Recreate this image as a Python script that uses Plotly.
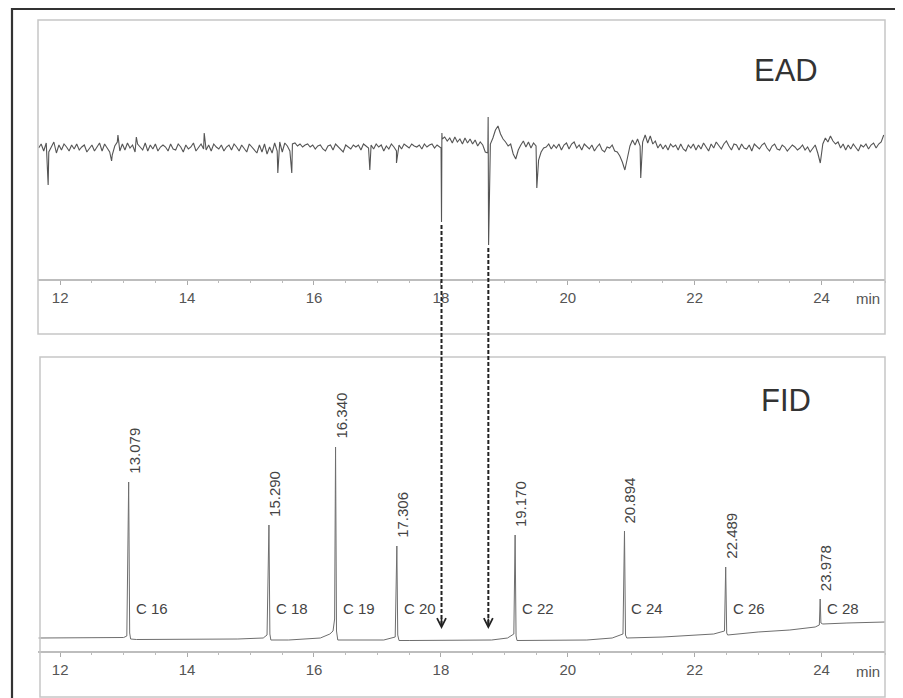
import numpy as np
import plotly.graph_objects as go

# page body has an 8 px margin, so the figure is sized to fit the 903x698 window
OFF = 8
W, H = 903 - OFF, 698 - OFF

# ---------------- EAD (antenna response, microvolts) ----------------
ead_t0 = 11.66          # first sample time (min)
ead_step = 0.04         # sampling step (min)
ead_noise = [
    0, 40, -30, 50, -40, 10, 60, -50, 30, -20, 40, 10, -30, 30, -10, 40, -20, 10, 30, -40, 0, 30, -30, 10, 50,
    -30, 40, 0, -40, -70, 20, 60, -30, 40, -20, 50, 0, 30, -40, 40, 10, -20, 50, -30, 30, -10, 40, -30, 10, 30,
    10, -30, 40, -10, -20, 40, 10, -40, 30, -10, 10, 50, -30, 10, 40, -10, -20, 30, -30, 40, 10, -10, 30, -30, 10,
    30, -20, 40, 10, -30, 30, -10, -40, 40, 10, -30, -50, 30, -40, 40, -60, 10, -50, 50, -30, 60, -40, 50, 20, -30,
    40, 50, 20, 40, 10, 30, 40, 10, 30, -10, 20, 30, -10, -30, 20, 30, -20, 40, 10, -10, -40, 30, 10, -10, 30,
    10, 30, -20, 40, 20, 0, 30, -10, 40, 10, 30, -30, 20, -10, 40, 10, -30, 30, -10, 40, 20, 0, 40, 20, 10,
    30, -10, 40, 10, 30, 40, 0, 30, 10, 90, 110, 70, 100, 50, 110, 60, 90, 40, 100, 50, 90, 40, 80, 20, 60,
    30, -40, -50, 40, 100, 180, 220, 140, 90, 60, 20, 40, -60, -110, -20, 30, 70, 10, 60, 0, 50, 20, -120, -40, 0,
    10, 40, -10, 30, 0, 40, -20, 30, 50, -10, 40, 60, 0, 30, -20, 40, 10, -10, 30, -30, 10, 40, -20, -40, 10,
    0, 30, -30, -40, -80, -140, -220, -100, 20, 80, 30, 90, 20, 60, 130, 50, 120, 40, 70, 0, 40, -10, 30, -20, 40,
    10, 30, -20, 40, -10, -30, 30, 0, 40, -20, 30, -10, 50, 10, -30, 40, 0, 60, 20, -10, 40, 70, 20, -20, 40,
    30, -20, 40, 0, -10, 30, -30, 40, 10, -10, 30, 50, 0, -30, 20, 40, -10, -20, 30, 10, -30, 0, 30, 10, -20,
    0, 30, -20, 10, -40, 0, 30, -50, -150, 40, 100, 60, 120, 70, 40, 60, 0, 40, -20, 30, -10, 40, 10, -30, 30,
    10, 40, -10, 30, 50, 0, 40, 60, 130,
]
# sharp spikes / responses
ead_event_t = [11.81, 12.81, 12.91, 13.20, 14.27, 15.43, 15.65, 16.88, 17.30,
               18.003, 18.010, 18.016, 18.745, 18.752, 19.512, 21.15]
ead_event_v = [-370, -130, 130, 110, 150, -250, -250, -220, -150,
               0, -740, 150, 310, -970, -400, -300]

# ---------------- FID (detector signal) ----------------
fid_base_t = [11.66, 12.5, 13.0, 13.05, 13.095, 13.11, 13.2, 14.0, 14.8, 15.2, 15.26, 15.305, 15.32, 15.6,
              16.1, 16.25, 16.30, 16.325, 16.355, 16.375, 16.6, 17.1, 17.28, 17.32, 17.34, 17.5, 18.0,
              18.8, 19.05, 19.15, 19.185, 19.20, 19.5, 20.3, 20.7, 20.87, 20.91, 20.93, 21.5, 22.3,
              22.47, 22.505, 22.52, 23.0, 23.5, 23.9, 23.965, 23.99, 24.02, 24.4, 25.0]
fid_base_v = [1, 1, 1.5, 3, 6, 0, -0.5, -0.5, 0, 1, 4, 5, -1, -1,
              1, 5, 8, 20, 8, -1, -1, -1, 2, 4, -1.5, -1.5, -1.5,
              -1, 1, 5, 3, -1.5, -1.5, -1, 1, 5, 4, 1, 2, 5,
              8, 6, 4, 7, 9, 12, 14, 16, 15, 16, 17]
peak_rt = [13.079, 15.290, 16.340, 17.306, 19.170, 20.894, 22.489, 23.978]
peak_height = [157, 114, 192, 93, 104, 108, 72, 40]
peak_names = ["C 16", "C 18", "C 19", "C 20", "C 22", "C 24", "C 26", "C 28"]

# antennal responses marked by arrows
response_t = [18.01, 18.748]

x_ticks = [12, 14, 16, 18, 20, 22, 24]

# ---------------- build series ----------------
ead_t_grid = ead_t0 + ead_step * np.arange(len(ead_noise))
ead_t = np.concatenate([ead_t_grid, ead_event_t])
ead_v = np.concatenate([np.array(ead_noise, float), ead_event_v])
order = np.argsort(ead_t, kind="stable")
ead_t, ead_v = ead_t[order], ead_v[order]

fid_t = np.concatenate([fid_base_t, peak_rt])
fid_v = np.concatenate([fid_base_v, peak_height])
order = np.argsort(fid_t, kind="stable")
fid_t, fid_v = fid_t[order], fid_v[order]

# ---------------- layout geometry (window pixel -> paper) ----------------
def px(p):
    return (p - OFF) / W

def py(p):
    return 1 - (p - OFF) / H

x_dom = [px(38), px(885)]
x_rng = [11.65, 25.0]
y_dom_top = [py(279), py(20)]
y_dom_bot = [py(651), py(357)]
ead_rng = [-1310, 1280]
fid_rng = [-12, 282]

def to_paper(v, rng, dom):
    return dom[0] + (v - rng[0]) / (rng[1] - rng[0]) * (dom[1] - dom[0])

FONT = "Liberation Sans, Arial, sans-serif"
TXT = "#444444"

fig = go.Figure()
fig.add_trace(go.Scatter(x=ead_t, y=ead_v, mode="lines", xaxis="x", yaxis="y",
                         line=dict(color="#555555", width=1.1), hoverinfo="skip", showlegend=False))
fig.add_trace(go.Scatter(x=fid_t, y=fid_v, mode="lines", xaxis="x2", yaxis="y2",
                         line=dict(color="#6e6e6e", width=1), hoverinfo="skip", showlegend=False))

axis_common = dict(
    domain=x_dom, range=x_rng, showgrid=False, zeroline=False,
    showline=True, linecolor="#bdbdbd", linewidth=1.5,
    tickmode="array", tickvals=x_ticks, ticktext=[str(v) for v in x_ticks],
    ticks="outside", ticklen=4, tickwidth=1, tickcolor="#aaaaaa",
    minor=dict(dtick=0.5, tick0=12, ticks="outside", ticklen=2, tickcolor="#bbbbbb", showgrid=False),
    tickfont=dict(family=FONT, size=15, color="#555555"),
    fixedrange=True,
)

annotations = []
shapes = []

# outer frame
shapes.append(dict(type="rect", xref="paper", yref="paper", x0=px(12), x1=1.05, y0=-0.05, y1=py(9),
                   line=dict(color="#333333", width=2.2)))
# panel boxes
shapes.append(dict(type="rect", xref="paper", yref="paper", x0=px(38), x1=px(885), y0=py(334), y1=py(20),
                   line=dict(color="#c6c6c6", width=1.5)))
shapes.append(dict(type="rect", xref="paper", yref="paper", x0=px(40), x1=px(885), y0=py(697), y1=py(357),
                   line=dict(color="#c6c6c6", width=1.5)))

# panel titles and unit labels
annotations.append(dict(text="EAD", xref="paper", yref="paper", x=px(786), y=py(70), showarrow=False,
                        font=dict(family=FONT, size=31, color="#333333"), xanchor="center", yanchor="middle"))
annotations.append(dict(text="FID", xref="paper", yref="paper", x=px(786), y=py(400), showarrow=False,
                        font=dict(family=FONT, size=31, color="#333333"), xanchor="center", yanchor="middle"))
for ymin in (298, 671):
    annotations.append(dict(text="min", xref="paper", yref="paper", x=px(868), y=py(ymin), showarrow=False,
                            font=dict(family=FONT, size=15, color="#555555"), xanchor="center", yanchor="middle"))

# peak labels
for rt, h, name in zip(peak_rt, peak_height, peak_names):
    annotations.append(dict(text=f"{rt:.3f}", x=rt, y=h, xref="x2", yref="y2", showarrow=False,
                            textangle=-90, xanchor="center", yanchor="bottom", xshift=5, yshift=6,
                            font=dict(family=FONT, size=15, color=TXT)))
    annotations.append(dict(text=name, x=rt, y=31, xref="x2", yref="y2", showarrow=False,
                            xanchor="left", yanchor="middle", xshift=5,
                            font=dict(family=FONT, size=15, color=TXT)))

# dashed arrows from EAD responses to FID trace
tip_v = 10
for rt in response_t:
    mask = np.abs(ead_t - rt) < 0.03
    dip = ead_v[mask].min()
    y_start = to_paper(dip, ead_rng, y_dom_top) - 3 / H
    y_end = to_paper(tip_v, fid_rng, y_dom_bot)
    shapes.append(dict(type="line", xref="x", yref="paper", x0=rt, x1=rt, y0=y_start, y1=y_end + 4 / H,
                       line=dict(color="#222222", width=2, dash="4px,2px")))
    annotations.append(dict(text="", x=rt, y=tip_v, xref="x2", yref="y2", showarrow=True,
                            ax=0, ay=-12, arrowhead=5, arrowsize=1.1, arrowwidth=1.6, arrowcolor="#222222"))

fig.update_layout(
    width=W, height=H, margin=dict(l=0, r=0, t=0, b=0),
    paper_bgcolor="white", plot_bgcolor="white",
    xaxis=dict(anchor="y", **axis_common),
    xaxis2=dict(anchor="y2", **axis_common),
    yaxis=dict(domain=y_dom_top, range=ead_rng, visible=False, fixedrange=True),
    yaxis2=dict(domain=y_dom_bot, range=fid_rng, visible=False, fixedrange=True),
    shapes=shapes, annotations=annotations, showlegend=False,
)

fig.write_html("out.html")
